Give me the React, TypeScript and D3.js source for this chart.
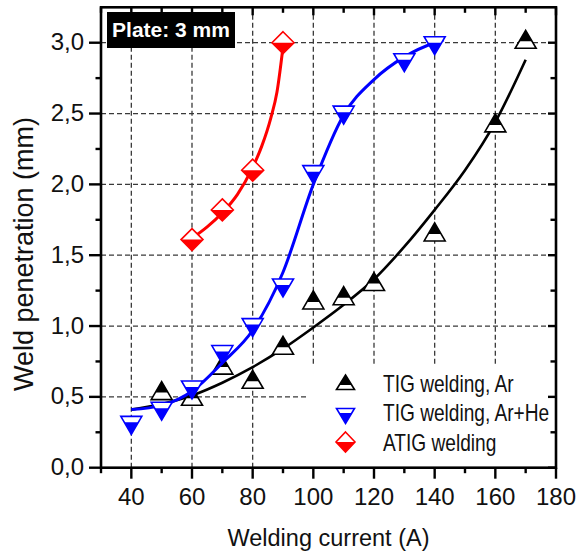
import React from "react";
import * as d3 from "d3";

// ---- data ----
const tigArCurrent = [50, 60, 70, 80, 90, 100, 110, 120, 140, 160, 170];
const tigArPen = [0.53, 0.49, 0.71, 0.61, 0.85, 1.17, 1.2, 1.3, 1.65, 2.42, 3.01];

const tigArHeCurrent = [40, 50, 60, 70, 80, 90, 100, 110, 130, 140];
const tigArHePen = [0.32, 0.42, 0.57, 0.82, 1.01, 1.29, 2.09, 2.51, 2.88, 3.0];

const atigCurrent = [60, 70, 80, 90];
const atigPen = [1.61, 1.82, 2.1, 3.0];

// fitted curves
const fitArX = [40, 50, 60, 70, 80, 90, 100, 110, 120, 130, 140, 150, 160, 170];
const fitArY = [0.41, 0.45, 0.51, 0.6, 0.71, 0.84, 0.99, 1.15, 1.33, 1.56, 1.82, 2.1, 2.44, 2.88];

const fitArHeX = [40, 50, 60, 70, 80, 90, 100, 110, 120, 130, 140, 143];
const fitArHeY = [0.41, 0.44, 0.54, 0.74, 0.97, 1.38, 2.0, 2.49, 2.74, 2.9, 3.0, 3.02];

const fitAtigX = [60, 65, 70, 75, 80, 83, 86, 88, 90];
const fitAtigY = [1.62, 1.7, 1.8, 1.93, 2.12, 2.27, 2.47, 2.65, 2.97];

const xMajorTicks = [40, 60, 80, 100, 120, 140, 160, 180];
const xMinorTicks = [30, 50, 70, 90, 110, 130, 150, 170];
const yMajorTicks = [0, 0.5, 1.0, 1.5, 2.0, 2.5, 3.0];
const yMinorTicks = [0.25, 0.75, 1.25, 1.75, 2.25, 2.75];
const xGrid = [40, 60, 80, 100, 120, 140, 160];
const yGrid = [0.5, 1.0, 1.5, 2.0, 2.5, 3.0];

const legendLabels = ["TIG welding, Ar", "TIG welding, Ar+He", "ATIG welding"];
const plateLabel = "Plate: 3 mm";
const xTitle = "Welding current (A)";
const yTitle = "Weld penetration (mm)";

const FONT = "'Liberation Sans', Arial, Helvetica, sans-serif";

type Shape = "up" | "down" | "diamond";

function Marker({ shape, cx, cy, color, w, a, b }: { shape: Shape; cx: number; cy: number; color: string; w: number; a: number; b: number }) {
  const sw = 1.6;
  if (shape === "up") {
    // apex at cy-a, base at cy+b, top part filled
    const hw = (w / 2) * (a / (a + b));
    const top = `M${cx},${cy - a}L${cx + hw},${cy}L${cx - hw},${cy}Z`;
    const full = `M${cx},${cy - a}L${cx + w / 2},${cy + b}L${cx - w / 2},${cy + b}Z`;
    return (
      <g>
        <path d={full} fill="#fff" />
        <path d={top} fill={color} />
        <path d={full} fill="none" stroke={color} strokeWidth={sw} strokeLinejoin="miter" />
      </g>
    );
  }
  if (shape === "down") {
    // base at cy-b, apex at cy+a, bottom part filled
    const hw = (w / 2) * (a / (a + b));
    const bot = `M${cx},${cy + a}L${cx + hw},${cy}L${cx - hw},${cy}Z`;
    const full = `M${cx},${cy + a}L${cx + w / 2},${cy - b}L${cx - w / 2},${cy - b}Z`;
    return (
      <g>
        <path d={full} fill="#fff" />
        <path d={bot} fill={color} />
        <path d={full} fill="none" stroke={color} strokeWidth={sw} />
      </g>
    );
  }
  const h = a;
  const full = `M${cx},${cy - h}L${cx + w / 2},${cy}L${cx},${cy + h}L${cx - w / 2},${cy}Z`;
  const bot = `M${cx - w / 2},${cy}L${cx + w / 2},${cy}L${cx},${cy + h}Z`;
  return (
    <g>
      <path d={full} fill="#fff" />
      <path d={bot} fill={color} />
      <path d={full} fill="none" stroke={color} strokeWidth={sw} />
    </g>
  );
}

export default function App() {
  const W = 578, H = 551;
  const x = d3.scaleLinear().domain([30, 180]).range([101, 556]);
  const y = d3.scaleLinear().domain([0, 3.25]).range([467.7, 7.3]);
  const [x0, x1] = x.range();
  const [y0, y1] = y.range();

  const line = d3
    .line<[number, number]>()
    .x((d) => x(d[0]))
    .y((d) => y(d[1]))
    .curve(d3.curveMonotoneX);

  const zip = (xs: number[], ys: number[]) => xs.map((v, i) => [v, ys[i]] as [number, number]);

  const series = [
    { shape: "up" as Shape, color: "#000000", xs: tigArCurrent, ys: tigArPen, fx: fitArX, fy: fitArY, lw: 2.6 },
    { shape: "down" as Shape, color: "#0000ff", xs: tigArHeCurrent, ys: tigArHePen, fx: fitArHeX, fy: fitArHeY, lw: 3 },
    { shape: "diamond" as Shape, color: "#ff0000", xs: atigCurrent, ys: atigPen, fx: fitAtigX, fy: fitAtigY, lw: 3 },
  ];

  const markerDims = (shape: Shape) =>
    shape === "up" ? { w: 21, a: 11, b: 7 } : shape === "down" ? { w: 21, a: 12, b: 6 } : { w: 22, a: 11, b: 11 };
  const legendDims = (shape: Shape) =>
    shape === "up" ? { w: 18, a: 10, b: 4.5 } : shape === "down" ? { w: 18, a: 10.5, b: 4.5 } : { w: 19, a: 10, b: 10 };

  const legendRowsY = [385, 413, 442];
  const legendTextY = [391.7, 421, 450.7];

  return (
    <svg width={W} height={H} style={{ position: "absolute", left: 0, top: 0, background: "#fff" }} fontFamily={FONT}>
      <rect x={0} y={0} width={W} height={H} fill="#fff" />
      {/* grid */}
      <g stroke="#3a3a3a" strokeWidth={1.3} strokeDasharray="5,3">
        {xGrid.map((v) => (
          <line key={"gx" + v} x1={x(v)} x2={x(v)} y1={y0} y2={y1} />
        ))}
        {yGrid.map((v) => (
          <line key={"gy" + v} x1={x0} x2={x1} y1={y(v)} y2={y(v)} />
        ))}
      </g>

      {/* legend background */}
      <rect x={308} y={366} width={x1 - 308} height={y0 - 366} fill="#fff" />

      {/* plate label */}
      <rect x={107} y={12} width={128} height={36} fill="#000" />
      <text x={171} y={37} fill="#fff" fontSize={21} fontWeight="bold" textAnchor="middle">
        {plateLabel}
      </text>

      {/* series */}
      {series.map((s, si) => (
        <g key={"s" + si}>
          <path d={line(zip(s.fx, s.fy)) || ""} fill="none" stroke={s.color} strokeWidth={s.lw} />
          {s.xs.map((v, i) => {
            const dm = markerDims(s.shape);
            return <Marker key={i} shape={s.shape} cx={x(v)} cy={y(s.ys[i])} color={s.color} {...dm} />;
          })}
        </g>
      ))}

      {/* legend */}
      {series.map((s, si) => (
        <g key={"l" + si}>
          <Marker shape={s.shape} cx={345.5} cy={legendRowsY[si]} color={s.color} {...legendDims(s.shape)} />
          <text transform={`translate(383,${legendTextY[si]}) scale(0.78,1)`} fontSize={24.5} fill="#111">
            {legendLabels[si]}
          </text>
        </g>
      ))}

      {/* frame */}
      <rect x={x0} y={y1} width={x1 - x0} height={y0 - y1} fill="none" stroke="#000" strokeWidth={2.6} />

      {/* ticks */}
      <g stroke="#000" strokeWidth={2.4}>
        {xMajorTicks.map((v) => (
          <g key={"xM" + v}>
            <line x1={x(v)} x2={x(v)} y1={y0} y2={y0 + 11} />
            <line x1={x(v)} x2={x(v)} y1={y1} y2={y1 + 8} />
          </g>
        ))}
        {xMinorTicks.map((v) => (
          <g key={"xm" + v}>
            <line x1={x(v)} x2={x(v)} y1={y0} y2={y0 + 5.5} />
            <line x1={x(v)} x2={x(v)} y1={y1} y2={y1 + 5.5} />
          </g>
        ))}
        {yMajorTicks.map((v) => (
          <g key={"yM" + v}>
            <line x1={x0 - 12} x2={x0} y1={y(v)} y2={y(v)} />
            <line x1={x1 - 8} x2={x1} y1={y(v)} y2={y(v)} />
          </g>
        ))}
        {yMinorTicks.map((v) => (
          <g key={"ym" + v}>
            <line x1={x0 - 5.5} x2={x0} y1={y(v)} y2={y(v)} />
            <line x1={x1 - 5.5} x2={x1} y1={y(v)} y2={y(v)} />
          </g>
        ))}
      </g>

      {/* tick labels */}
      <g fontSize={24} fill="#111">
        {xMajorTicks.map((v) => (
          <text key={"xl" + v} x={x(v)} y={505} textAnchor="middle">
            {String(v)}
          </text>
        ))}
        {yMajorTicks.map((v) => (
          <text key={"yl" + v} x={84} y={y(v) + 7.5} textAnchor="end">
            {v.toFixed(1).replace(".", ",")}
          </text>
        ))}
      </g>

      {/* axis titles */}
      <text x={(x0 + x1) / 2} y={546} fontSize={23.5} textAnchor="middle" fill="#111">
        {xTitle}
      </text>
      <text transform={`translate(33,254) rotate(-90)`} fontSize={27} textAnchor="middle" fill="#111">
        {yTitle}
      </text>
    </svg>
  );
}
